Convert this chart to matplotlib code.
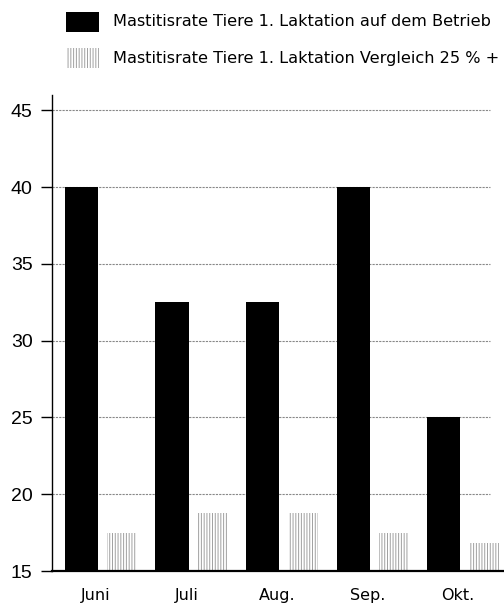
import numpy as np
import matplotlib
matplotlib.use("Agg")
import matplotlib.pyplot as plt
from matplotlib.patches import Rectangle

# =========================
# DATA
# =========================
months = ["Juni", "Juli", "Aug.", "Sep.", "Okt."]
betrieb = [40, 32.5, 32.5, 40, 25]
vergleich = [17.5, 18.75, 18.75, 17.5, 16.8]

label_betrieb = "Mastitisrate Tiere 1. Laktation auf dem Betrieb"
label_vergleich = "Mastitisrate Tiere 1. Laktation Vergleich 25 % +"

# =========================
# FIGURE
# =========================
plt.rcParams["font.family"] = ["Liberation Sans", "DejaVu Sans"]
plt.rcParams["hatch.linewidth"] = 0.7

fig = plt.figure(figsize=(5.04, 6.05), dpi=100)
ax = fig.add_axes([52 / 504, 1 - 571 / 605, 452 / 504, (571 - 95) / 605])

x = np.arange(len(months))
gray = "#a0a0a0"

ax.bar(x - 0.16, betrieb, width=0.365, color="black", zorder=2)
ax.bar(x + 0.287, vergleich, width=0.33, color="white", edgecolor=gray,
       linewidth=0, hatch="||||||", zorder=2)

ax.set_xlim(-0.486, 4.508)
ax.set_ylim(15, 46)

for yv in range(20, 50, 5):
    ax.axhline(yv, xmin=0, xmax=0.969, color="#888888", lw=0.8,
               linestyle=(0, (2, 1)), zorder=1)

ax.set_yticks(range(15, 50, 5))
ax.tick_params(axis="y", labelsize=14, length=8, width=1, direction="out", pad=6)
ax.set_xticks(x)
ax.set_xticklabels(months, fontsize=11.5, family="DejaVu Sans")
ax.tick_params(axis="x", length=0, pad=12)

for s in ["top", "right"]:
    ax.spines[s].set_visible(False)
ax.spines["left"].set_linewidth(1.0)
ax.spines["bottom"].set_linewidth(1.6)
for s in ["left", "bottom"]:
    ax.spines[s].set_zorder(5)

# legend at the top
fig.patches.append(Rectangle((66 / 504, 1 - 32 / 605), 33 / 504, 20 / 605,
                             transform=fig.transFigure, facecolor="black",
                             edgecolor="none"))
fig.patches.append(Rectangle((66 / 504, 1 - 68 / 605), 33 / 504, 20 / 605,
                             transform=fig.transFigure, facecolor="white",
                             edgecolor=gray, linewidth=0, hatch="||||||"))
fig.text(113 / 504, 1 - 22 / 605, label_betrieb, fontsize=11.6,
         family="DejaVu Sans", va="center")
fig.text(113 / 504, 1 - 58 / 605, label_vergleich, fontsize=11.6,
         family="DejaVu Sans", va="center")

fig.savefig("out.png", dpi=100)
